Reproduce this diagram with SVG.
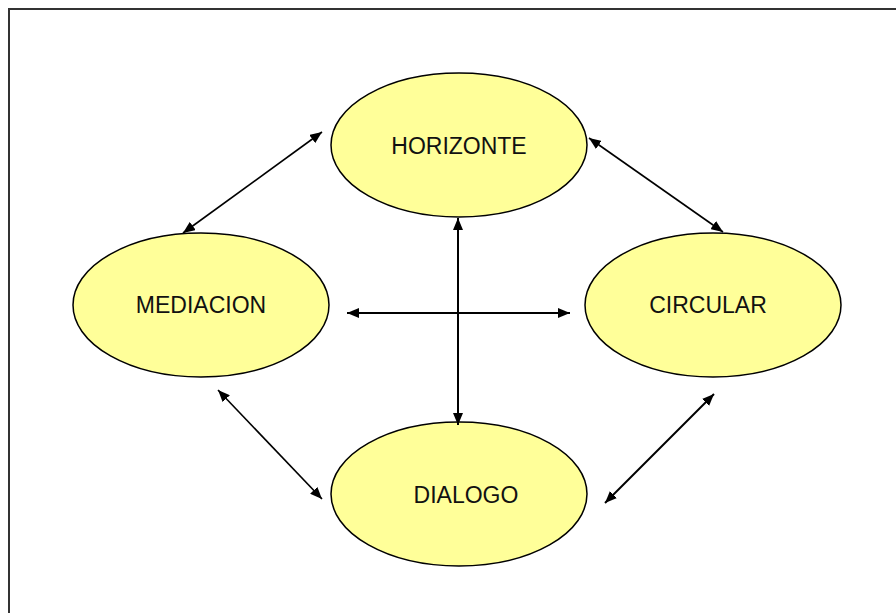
<svg xmlns="http://www.w3.org/2000/svg" width="896" height="613" viewBox="0 0 896 613">
<defs>
<style>
.node ellipse{fill:#FFFF99;stroke:#000;stroke-width:1.5}
.node text{font-family:"Liberation Sans",Arial,sans-serif;font-size:23px;fill:#111;text-anchor:middle;dominant-baseline:central}
.conn line{stroke:#000;stroke-width:1.6;marker-start:url(#ah);marker-end:url(#ah)}
.conn .thick{stroke-width:2}
</style>
<marker id="ah" viewBox="0 0 12 10" refX="12" refY="5" markerWidth="12" markerHeight="10" markerUnits="userSpaceOnUse" orient="auto-start-reverse">
<path d="M0,0 L12,5 L0,10 z" fill="#000"/>
</marker>
</defs>
<rect x="0" y="0" width="896" height="613" fill="#fff"/>
<rect x="9" y="9" width="900" height="620" fill="none" stroke="#333" stroke-width="2"/>
<g id="horizonte" class="node"><ellipse cx="459" cy="145" rx="128" ry="72"/><text x="459" y="146">HORIZONTE</text></g>
<g id="mediacion" class="node"><ellipse cx="201" cy="305" rx="128" ry="72"/><text x="201" y="305">MEDIACION</text></g>
<g id="circular" class="node"><ellipse cx="713" cy="305" rx="128" ry="72"/><text x="708" y="305">CIRCULAR</text></g>
<g id="dialogo" class="node"><ellipse cx="459" cy="494" rx="128" ry="72"/><text x="466" y="495">DIALOGO</text></g>
<g id="connectors" class="conn">
<line x1="183" y1="233" x2="322" y2="132"/>
<line x1="589" y1="138" x2="723" y2="232"/>
<line class="thick" x1="458" y1="218" x2="458" y2="425"/>
<line class="thick" x1="347" y1="313" x2="570" y2="313"/>
<line x1="218" y1="390" x2="322" y2="499"/>
<line class="thick" x1="714" y1="394" x2="605" y2="503"/>
</g>
</svg>
